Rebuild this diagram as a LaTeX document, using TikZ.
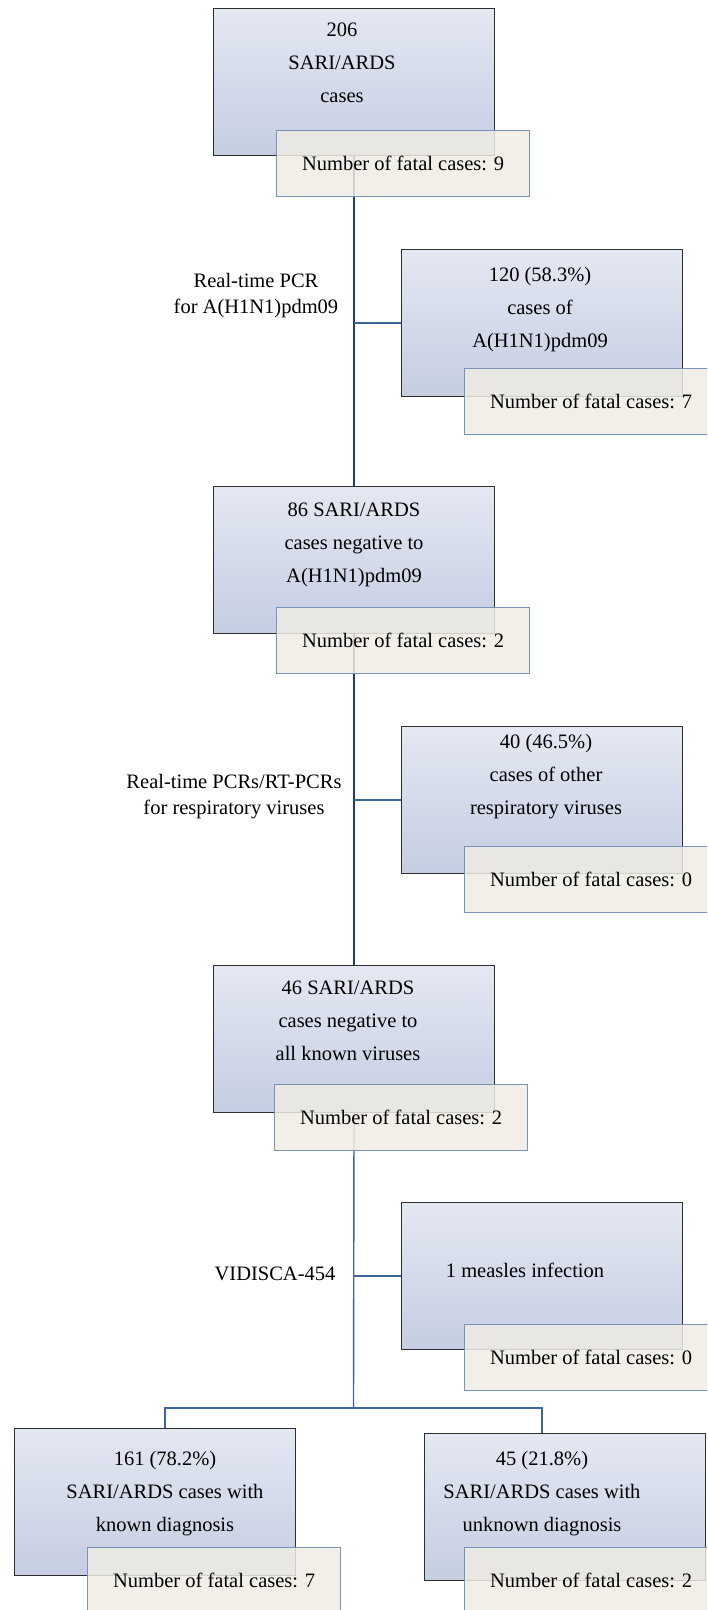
\documentclass[tikz,border=0pt]{standalone}
\usepackage{fontspec}
\setmainfont{Liberation Serif}
\usetikzlibrary{positioning, calc, backgrounds}
\definecolor{boxtop}{HTML}{E4E8F2}
\definecolor{boxbottom}{HTML}{C5CDE2}
\definecolor{boxline}{HTML}{2E2E2E}
\definecolor{fatalfill}{HTML}{EEECE3}
\definecolor{fatalline}{HTML}{7893BA}
\definecolor{trunkblue}{HTML}{1F3B6B}
\definecolor{branchblue}{HTML}{3A6699}

\begin{document}
\begin{tikzpicture}[
    x=0.5pt, y=-0.5pt,
    casebox/.style={draw=boxline, line width=0.65pt, top color=boxtop, bottom color=boxbottom, minimum width=140.5pt, minimum height=73.5pt, inner sep=0pt, anchor=north west},
    fatalbox/.style={draw=fatalline, line width=0.65pt, fill=fatalfill, fill opacity=0.85, text opacity=1, minimum width=126.5pt, minimum height=33pt, inner sep=0pt, anchor=north west, font=\fontsize{10.25pt}{16.5pt}\selectfont},
    boxtext/.style={align=center, inner sep=0pt, font=\fontsize{10.25pt}{16.5pt}\selectfont},
    testlabel/.style={align=center, inner sep=0pt, font=\fontsize{10.25pt}{13pt}\selectfont},
    trunk/.style={draw=trunkblue, line width=1.1pt},
    branch/.style={draw=branchblue, line width=0.7pt}
  ]
    \useasboundingbox (0,0) rectangle (707,1610);
    \clip (0,0) rectangle (707,1610);

    % Case boxes
    \node[casebox] (b1) at (213,8) {};
    \node[casebox] (b2) at (401,249) {};
    \node[casebox] (b3) at (213,486) {};
    \node[casebox] (b4) at (401,726) {};
    \node[casebox] (b5) at (213,965) {};
    \node[casebox] (b6) at (401,1202) {};
    \node[casebox] (b7) at (14,1428) {};
    \node[casebox] (b8) at (424,1433) {};

    % Box texts
    \node[boxtext] (t1) at (342,63) {206\\SARI/ARDS\\cases};
    \node[boxtext] (t2) at (540,310) {120 (58.3\%)\\cases of\\A(H1N1)pdm09};
    \node[boxtext] (t3) at (354,545) {86 SARI/ARDS\\cases negative to\\A(H1N1)pdm09};
    \node[boxtext] (t4) at (546,777) {40 (46.5\%)\\cases of other\\respiratory viruses};
    \node[boxtext] (t5) at (348,1021) {46 SARI/ARDS\\cases negative to\\all known viruses};
    \node[boxtext] (t6) at (525,1270) {1 measles infection};
    \node[boxtext] (t7) at (165,1494) {161 (78.2\%)\\SARI/ARDS cases with\\known diagnosis};
    \node[boxtext] (t8) at (542,1494) {45 (21.8\%)\\SARI/ARDS cases with\\unknown diagnosis};

    % Fatal cases
    \node[fatalbox] (f1) at (276,130) {Number of fatal cases: 9};
    \node[fatalbox] (f2) at (464,368) {Number of fatal cases: 7};
    \node[fatalbox] (f3) at (276,607) {Number of fatal cases: 2};
    \node[fatalbox] (f4) at (464,846) {Number of fatal cases: 0};
    \node[fatalbox] (f5) at (274,1084) {Number of fatal cases: 2};
    \node[fatalbox] (f6) at (464,1324) {Number of fatal cases: 0};
    \node[fatalbox] (f7) at (87,1547) {Number of fatal cases: 7};
    \node[fatalbox] (f8) at (464,1547) {Number of fatal cases: 2};

    % Test labels
    \node[testlabel] (l1) at (256,296) {Real-time PCR\\for A(H1N1)pdm09};
    \node[testlabel] (l2) at (234,797) {Real-time PCRs/RT-PCRs\\for respiratory viruses};
    \node[testlabel] (l3) at (275,1274) {VIDISCA-454};

    % Connectors
    \coordinate (split) at (353.5,1408);
    \begin{scope}[on background layer]
      \draw[trunk] (b1) -- (b3);
      \draw[trunk] (b3) -- (b5);
      \draw[branch] (b5) -- (split);
      \draw[branch] (b2.west) -- (b2.west -| b1.south);
      \draw[branch] (b4.west) -- (b4.west -| b1.south);
      \draw[branch] (b6.west) -- (b6.west -| b1.south);
      \draw[branch] ([xshift=4.9pt]b7.north) |- (split) -| ([xshift=-11.5pt]b8.north);
    \end{scope}
\end{tikzpicture}
\end{document}
